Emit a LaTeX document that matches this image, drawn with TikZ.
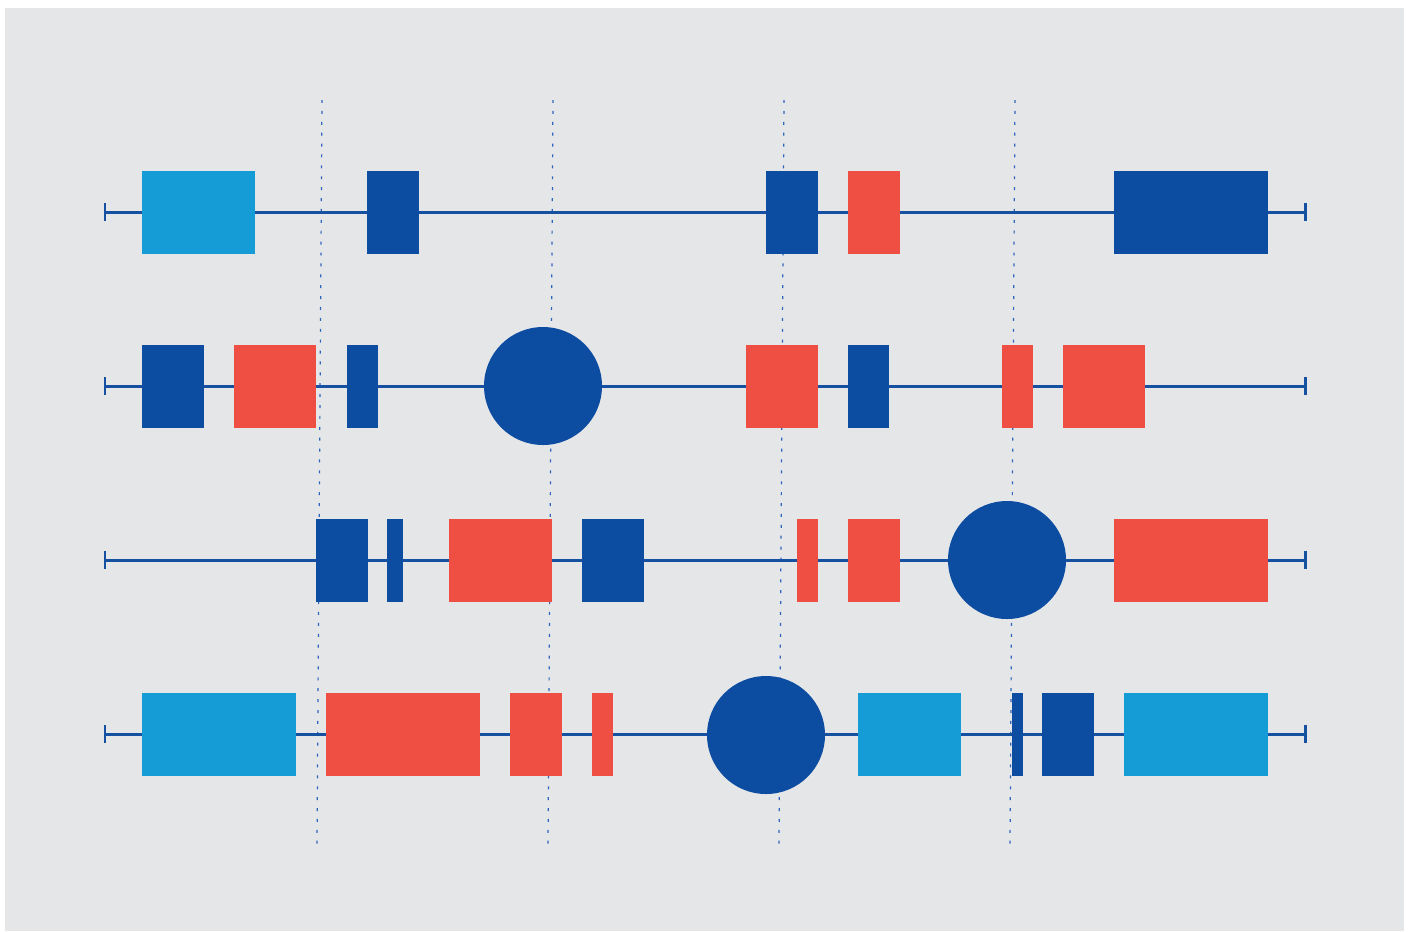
\documentclass[tikz,border=0pt]{standalone}
\usepackage{tikz}

\definecolor{dkblue}{HTML}{0C4DA2}
\definecolor{ltblue}{HTML}{159CD7}
\definecolor{redc}{HTML}{EF4E42}
\definecolor{bggray}{HTML}{E5E6E8}
\definecolor{linec}{HTML}{1650A0}
\definecolor{dotc}{HTML}{2F64BE}

\begin{document}
\begin{tikzpicture}[x=0.02cm, y=-0.02cm,
  dk/.style={fill=dkblue}, rd/.style={fill=redc}, lb/.style={fill=ltblue},
  track/.style={draw=linec, line width=1.7pt},
  guide/.style={draw=dotc, line width=0.7pt, dash pattern=on 1.7pt off 4.5pt}]

  % Fondo
  \useasboundingbox (0,0) rectangle (1412,931);
  \fill[bggray] (5,8) rectangle (1404,931);

  % Guias punteadas
  \foreach \xa/\xb [count=\i] in {322/317, 553/548, 784/779, 1015/1010} {
    \coordinate (gt\i) at (\xa,100);
    \coordinate (gb\i) at (\xb,845);
    \draw[guide] (gt\i) -- (gb\i);
  }

  % Lineas con topes
  \foreach \y [count=\i] in {212,386,560,734} {
    \coordinate (s\i) at (105,\y);
    \coordinate (e\i) at (1305,\y);
    \draw[track] (s\i) -- (e\i);
    \draw[track] (s\i) ++(0,-9) -- ++(0,18);
    \draw[track] (e\i) ++(0,-9) -- ++(0,18);
  }

  % Fila 1
  \foreach \a/\b/\c in {142/255/lb, 367/419/dk, 766/818/dk, 848/900/rd, 1114/1268/dk}
    \fill[\c] (\a,170.5) rectangle (\b,253.5);

  % Fila 2
  \foreach \a/\b/\c in {142/204/dk, 234/316/rd, 347/378/dk, 746/818/rd, 848/889/dk, 1002/1033/rd, 1063/1145/rd}
    \fill[\c] (\a,344.5) rectangle (\b,427.5);
  \fill[dk] (543,386) circle [radius=59];

  % Fila 3
  \foreach \a/\b/\c in {316/368/dk, 387/403/dk, 449/552/rd, 582/644/dk, 797/818/rd, 848/900/rd, 1114/1268/rd}
    \fill[\c] (\a,518.5) rectangle (\b,601.5);
  \fill[dk] (1007,560) circle [radius=59];

  % Fila 4
  \foreach \a/\b/\c in {142/296/lb, 326/480/rd, 510/562/rd, 592/613/rd, 858/961/lb, 1012/1023/dk, 1042/1094/dk, 1124/1268/lb}
    \fill[\c] (\a,692.5) rectangle (\b,775.5);
  \fill[dk] (766,735) circle [radius=59];
\end{tikzpicture}
\end{document}
